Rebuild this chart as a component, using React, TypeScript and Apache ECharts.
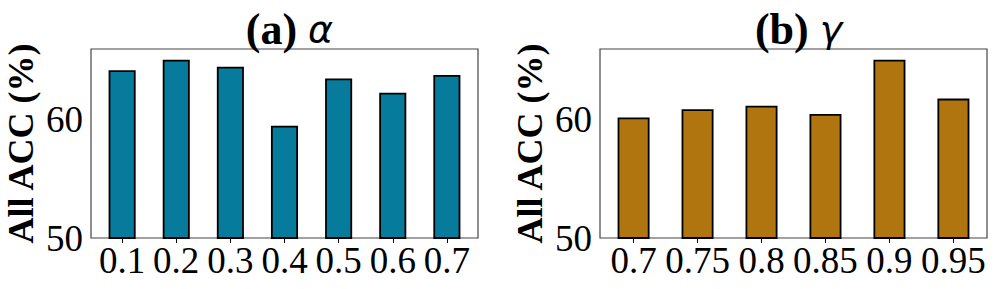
import React, { useEffect, useRef } from "react";
import * as echarts from "echarts";

const alphaCats = ["0.1", "0.2", "0.3", "0.4", "0.5", "0.6", "0.7"];
const alphaVals = [64.2, 65.1, 64.5, 59.5, 63.5, 62.3, 63.8];
const gammaCats = ["0.7", "0.75", "0.8", "0.85", "0.9", "0.95"];
const gammaVals = [60.2, 60.9, 61.2, 60.5, 65.1, 61.8];
const yTicks = [50, 60];
const yMin = 50;
const yMax = 66;

const SERIF = "Liberation Serif";

export default function App() {
  const ref = useRef<HTMLDivElement>(null);
  useEffect(() => {
    if (!ref.current) return;
    const chart = echarts.init(ref.current, null, { renderer: "svg" });
    const gridW = 387;
    const panels = [
      { cats: alphaCats, vals: alphaVals, left: 91, color: "#077b9b", title: "{b|(a) }{i|α}" },
      { cats: gammaCats, vals: gammaVals, left: 600, color: "#b17510", title: "{b|(b) }{i|γ}" },
    ];
    const grid: any[] = [];
    const xAxis: any[] = [];
    const yAxis: any[] = [];
    const series: any[] = [];
    const title: any[] = [];
    panels.forEach((p, i) => {
      const n = p.cats.length;
      const lo = -0.25 - 0.05 * (n - 0.5);
      const hi = n - 1 + 0.25 + 0.05 * (n - 0.5);
      const span = hi - lo;
      const idx = p.cats.map((_, k) => k);
      grid.push({
        left: p.left,
        top: 49,
        width: gridW,
        height: 189,
        show: true,
        borderColor: "#444",
        borderWidth: 1.2,
        backgroundColor: "transparent",
      });
      xAxis.push({
        type: "value",
        gridIndex: i,
        min: lo,
        max: hi,
        splitLine: { show: false },
        axisLine: { show: false },
        axisTick: { show: true, customValues: idx, length: 5, inside: false, lineStyle: { color: "#000", width: 1 } },
        axisLabel: {
          customValues: idx,
          formatter: (v: number) => p.cats[Math.round(v)],
          fontFamily: SERIF,
          fontSize: 37,
          color: "#000",
          margin: 4,
        },
      });
      yAxis.push({
        type: "value",
        gridIndex: i,
        min: yMin,
        max: yMax,
        interval: 10,
        splitLine: { show: false },
        axisLine: { show: false },
        axisTick: { show: true, customValues: yTicks, length: 5, lineStyle: { color: "#000", width: 1 } },
        axisLabel: {
          customValues: yTicks,
          fontFamily: SERIF,
          fontSize: 37,
          color: "#000",
          margin: 8,
        },
        name: "All ACC (%)",
        nameLocation: "middle",
        nameGap: 52,
        nameTextStyle: { fontFamily: SERIF, fontWeight: "bold", fontSize: 36, color: "#000" },
      });
      series.push({
        type: "bar",
        xAxisIndex: i,
        yAxisIndex: i,
        barWidth: (0.5 * gridW) / span,
        data: p.vals.map((v, k) => [k, v]),
        itemStyle: { color: p.color, borderColor: "#000", borderWidth: 1.8 },
      });
      title.push({
        text: p.title,
        left: p.left + gridW / 2,
        top: 2,
        textAlign: "center",
        textStyle: {
          rich: {
            b: { fontFamily: SERIF, fontWeight: "bold", fontSize: 44, color: "#000" },
            i: { fontFamily: "DejaVu Sans", fontStyle: "italic", fontWeight: "normal", fontSize: 38, color: "#000" },
          },
        },
      });
    });
    chart.setOption({
      animation: false,
      backgroundColor: "#fff",
      title,
      grid,
      xAxis,
      yAxis,
      series,
    });
    return () => chart.dispose();
  }, []);
  return (
    <div
      ref={ref}
      style={{ position: "fixed", left: 0, top: 0, width: 996, height: 289 }}
    />
  );
}
